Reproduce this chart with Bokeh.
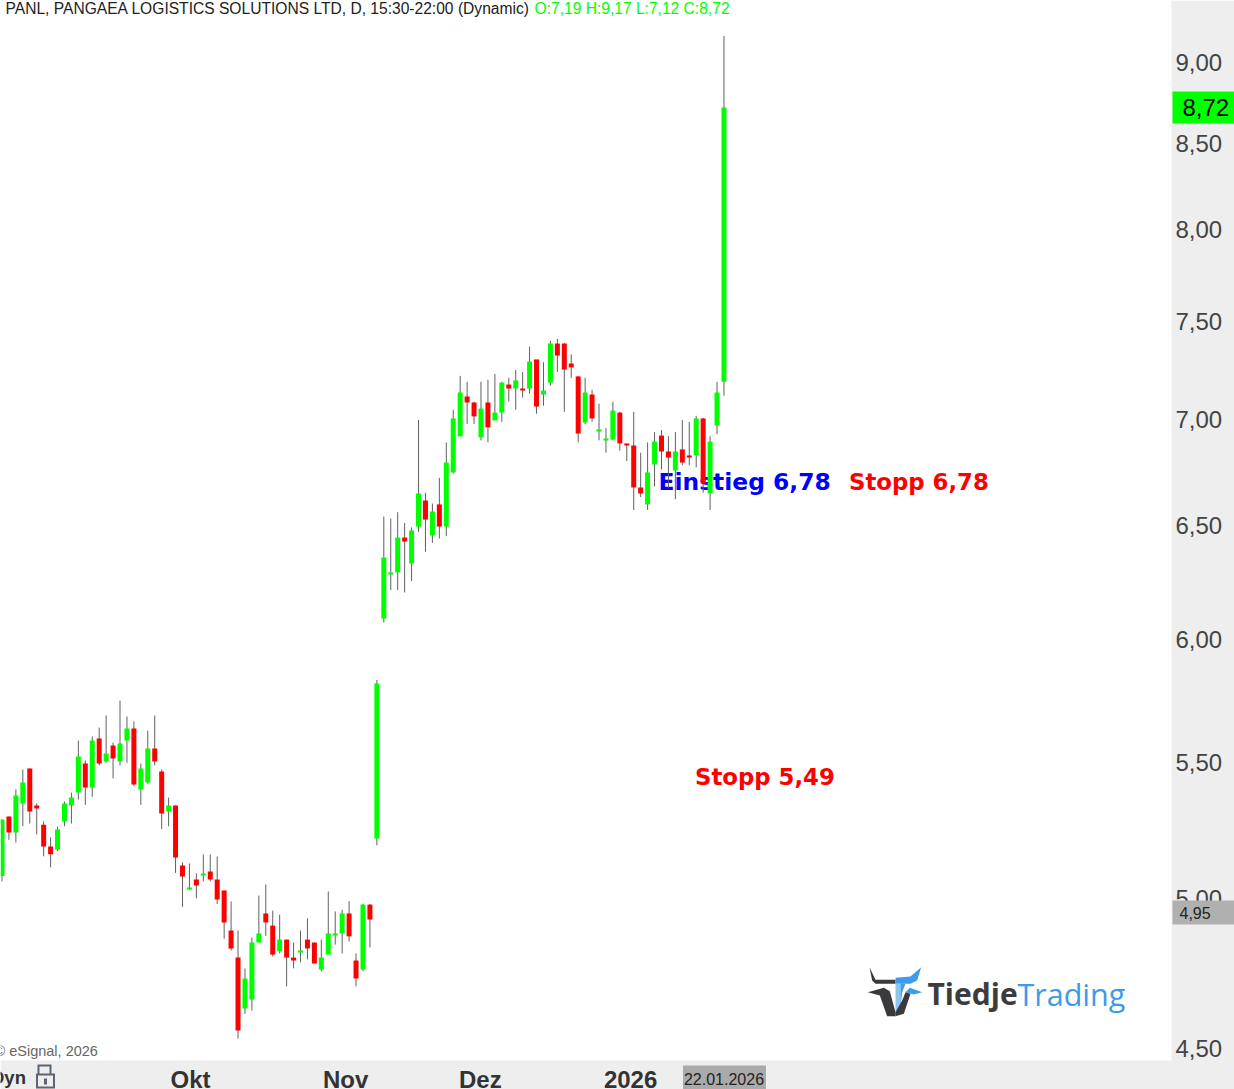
import math
from bokeh.plotting import figure
from bokeh.embed import file_html
from bokeh.resources import INLINE
from bokeh.core.properties import value
from bokeh.models import (Range1d, FixedTicker, CustomJSTickFormatter, LinearAxis, BoxAnnotation, ColumnDataSource)

# ---- data (daily candles) ----
opens = [5.079,5.296,5.237,5.345,5.478,5.337,5.266,5.186,5.175,5.278,5.337,5.386,5.497,5.405,5.595,5.505,5.567,5.505,5.587,5.634,5.398,5.424,5.556,5.466,5.315,5.337,5.117,5.031,5.067,5.081,5.095,5.067,5.028,4.888,4.796,4.627,4.657,4.847,4.947,4.905,4.817,4.857,4.796,4.813,4.857,4.847,4.756,4.806,4.871,4.878,4.947,4.786,4.756,4.978,5.215,6.087,6.279,6.288,6.444,6.327,6.494,6.614,6.453,6.596,6.494,6.746,6.919,7.116,7.086,6.914,7.086,6.997,7.036,7.176,7.156,7.156,7.156,7.304,7.126,7.186,7.386,7.386,7.283,7.217,6.987,7.126,6.943,6.899,6.904,7.036,6.885,6.875,6.675,6.596,6.784,6.923,6.846,6.755,6.856,6.827,6.827,7.007,6.647,6.972,7.19]
highs = [5.285,5.296,5.398,5.474,5.478,5.345,5.278,5.219,5.259,5.352,5.386,5.587,5.509,5.603,5.638,5.686,5.579,5.746,5.682,5.662,5.497,5.626,5.686,5.474,5.367,5.337,5.128,5.124,5.088,5.157,5.157,5.149,5.028,4.989,4.888,4.759,4.864,5.010,5.049,4.957,4.943,4.857,4.847,4.888,4.930,4.847,4.857,5.024,4.954,
         4.96,4.99,4.81,4.98,4.98,5.83,6.54,6.53,6.56,6.51,6.49,7.00,6.65,6.60,6.72,6.89,7.05,7.22,7.19,7.09,7.19,7.20,7.23,7.19,7.21,7.25,7.24,7.37,7.30,7.29,7.40,7.41,7.39,7.33,7.22,7.21,7.15,7.08,6.96,7.09,7.04,6.88,7.04,6.84,6.89,6.94,6.95,6.92,6.94,7.00,6.99,7.02,7.01,6.92,7.19,9.17]
lows = [5.06,5.21,5.20,5.26,5.27,5.23,5.15,5.11,5.17,5.26,5.27,5.36,5.34,5.37,5.49,5.50,5.44,5.49,5.50,5.41,5.34,5.42,5.49,5.25,5.26,5.09,4.97,5.03,5.00,5.06,5.06,4.98,4.86,4.82,4.53,4.61,4.62,4.85,4.87,4.80,4.81,4.70,4.76,4.78,4.79,4.78,4.75,4.81,4.84,4.81,4.85,4.70,4.75,4.83,5.19,6.07,6.21,6.21,6.20,6.25,6.47,6.38,6.42,6.44,6.45,6.74,6.92,6.98,6.98,6.90,6.89,7.00,6.99,7.09,7.05,7.11,7.13,7.03,7.07,7.17,7.24,7.04,7.21,6.89,6.98,6.99,6.90,6.84,6.90,6.85,6.80,6.57,6.63,6.57,6.68,6.76,6.67,6.62,6.78,6.78,6.77,6.65,6.57,6.93,7.12]
closes = [5.285,5.237,5.375,5.424,5.315,5.326,5.186,5.157,5.248,5.345,5.367,5.524,5.405,5.587,5.497,5.536,5.517,5.575,5.634,5.417,5.478,5.556,5.505,5.307,5.337,5.146,5.077,5.038,5.045,5.088,5.067,4.996,4.916,4.827,4.556,4.726,4.847,4.878,4.916,4.806,4.857,4.796,4.786,4.820,4.827,4.776,4.796,4.878,4.878,4.947,4.868,4.726,4.978,4.926,5.815,6.354,6.288,6.444,6.426,6.476,6.647,6.526,6.563,6.494,6.793,7.007,7.136,7.086,7.017,7.056,6.963,7.036,7.186,7.156,7.197,7.146,7.293,7.066,7.146,7.386,7.324,7.252,7.263,6.933,7.136,7.007,6.953,6.909,7.046,6.885,6.875,6.675,6.647,6.746,6.894,6.846,6.817,6.846,6.793,6.817,7.007,6.694,6.894,7.136,8.72]
price_ticks = [4.5, 5.0, 5.5, 6.0, 6.5, 7.0, 7.5, 8.0, 8.5, 9.0]
month_ticks = [27.15, 49.5, 68.9, 90.55]
month_labels = ["Okt", "Nov", "Dez", "2026"]
assert len(opens) == len(highs) == len(lows) == len(closes) == 105

# ---- reference pixel <-> data helpers (for annotations only) ----
def X(px): return (px - 1.5) / 6.942
def Y(py): return 9.0 * math.exp(-(py - 62.0) / 1422.0)

BAND = "#eeeeee"
ARIAL = "Liberation Sans"

# the plot frame fills the canvas; the axes sit at fixed locations inside it
p = figure(width=1234, height=1089, y_axis_type="log", y_axis_location="right",
           x_range=Range1d(X(0), X(1234)), y_range=Range1d(Y(1089), Y(0)),
           toolbar_location=None, output_backend="svg",
           min_border_left=0, min_border_top=0, min_border_right=0, min_border_bottom=0,
           background_fill_color="white", border_fill_color=BAND, outline_line_color=None)
p.grid.visible = False

# margin bands
p.add_layout(BoxAnnotation(left=X(1171), right=X(1234), top=Y(0), bottom=Y(1089), fill_color=BAND, fill_alpha=1,
                           line_color=None, level="underlay"))
p.add_layout(BoxAnnotation(left=X(0), right=X(1234), top=Y(1060), bottom=Y(1089), fill_color=BAND, fill_alpha=1,
                           line_color=None, level="underlay"))

ya = p.yaxis[0]
ya.fixed_location = X(1171)
ya.ticker = FixedTicker(ticks=price_ticks)
ya.formatter = CustomJSTickFormatter(code="return tick.toFixed(2).replace('.', ',')")
ya.axis_line_color = None
ya.major_tick_line_color = None
ya.minor_tick_line_color = None
ya.major_tick_out = 0
ya.major_tick_in = 0
ya.minor_tick_out = 0
ya.minor_tick_in = 0
ya.major_label_text_font = ARIAL
ya.major_label_text_font_size = "24px"
ya.major_label_text_color = "#444444"
ya.major_label_standoff = 4

xa = p.xaxis[0]
xa.fixed_location = Y(1060)
xa.ticker = FixedTicker(ticks=month_ticks)
xa.major_label_overrides = dict(zip(month_ticks, month_labels))
xa.axis_line_color = None
xa.major_tick_line_color = None
xa.minor_tick_line_color = None
xa.major_tick_out = 0
xa.major_tick_in = 0
xa.minor_tick_out = 0
xa.minor_tick_in = 0
xa.major_label_text_font = ARIAL
xa.major_label_text_font_style = "bold"
xa.major_label_text_font_size = "24px"
xa.major_label_text_color = "#333333"
xa.major_label_standoff = 5

def txt(px, py, s, color, size, font=ARIAL, style="normal", align="left"):
    p.text([X(px)], [Y(py)], text=[s], text_color=color, text_font=value(font), text_font_size=size,
           text_font_style=style, text_baseline="middle", text_align=align)

# texts that lie below the candles
txt(658, 481, "Einstieg 6,78", "#0000ff", "23.4px", "DejaVu Sans", "bold")
txt(848.5, 481, "Stopp 6,78", "#ff0000", "22.8px", "DejaVu Sans", "bold")
txt(694.5, 776, "Stopp 5,49", "#ff0000", "22.8px", "DejaVu Sans", "bold")
txt(5, 8, "PANL, PANGAEA LOGISTICS SOLUTIONS LTD, D, 15:30-22:00 (Dynamic)", "#222222", "15.6px")
txt(534, 8, "O:7,19 H:9,17 L:7,12 C:8,72", "#00ff00", "15.6px")
txt(-6, 1050, "© eSignal, 2026", "#666666", "14.5px")
txt(-9.5, 1077, "Dyn", "#333333", "18.5px", style="bold")

# candles
idx = list(range(len(opens)))
up = [c >= o for o, c in zip(opens, closes)]
src = ColumnDataSource(dict(x=idx, h=highs, l=lows,
                            top=[max(o, c) for o, c in zip(opens, closes)],
                            bot=[min(o, c) for o, c in zip(opens, closes)],
                            col=["#00ff00" if u else "#ff0000" for u in up]))
p.segment("x", "h", "x", "l", source=src, line_color="#606060", line_width=1)
p.vbar(x="x", top="top", bottom="bot", width=0.72, source=src, fill_color="col", line_color=None)

# logo
def poly(pts, color):
    p.patch([X(850 + a / 3) for a, b in pts], [Y(950 + b / 3) for a, b in pts],
            fill_color=color, line_color=None)
DARK = "#3a3a3e"
BLUE = "#3d9be9"
poly([(57,50),(75,88),(135,88),(135,100),(75,100),(65,90)], DARK)
poly([(135,82),(180,78),(212,50),(200,90),(180,100),(135,100)], BLUE)
poly([(135,100),(150,100),(150,170),(135,195)], "#8fc4ee")
poly([(150,100),(165,100),(155,125),(150,170)], BLUE)
poly([(52,125),(100,112),(118,122),(135,185),(135,197),(110,197),(88,135)], DARK)
poly([(215,125),(178,112),(165,125),(190,132)], BLUE)
poly([(165,125),(180,130),(160,190),(135,197),(135,185),(155,150)], DARK)
txt(927, 993, "Tiedje", "#3c3c3c", "30px", "Open Sans", "bold")
txt(1017, 993, "Trading", BLUE, "30.5px", "Open Sans")

# tags and icon in the margins: fixed-location axes whose single tick is the coloured box
def _style(ax, color, width, length, label_color, size, standoff, bold=False):
    ax.axis_line_color = None
    ax.minor_tick_line_color = None
    ax.minor_tick_in = 0
    ax.minor_tick_out = 0
    ax.major_tick_in = 0
    ax.major_tick_out = length
    ax.major_tick_line_color = color
    ax.major_tick_line_width = width
    ax.major_label_text_font = ARIAL
    ax.major_label_text_font_size = size
    ax.major_label_text_color = label_color
    ax.major_label_standoff = standoff
    if bold:
        ax.major_label_text_font_style = "bold"

def y_tag(price, x0, x1, y0, y1, color, label, label_color, size, text_x):
    ax = LinearAxis(fixed_location=X(x0), ticker=FixedTicker(ticks=[price]),
                    major_label_overrides={price: label})
    _style(ax, color, y1 - y0, x1 - x0, label_color, size, text_x - x1)
    p.add_layout(ax, "right")

def x_tag(x0, x1, y0, y1, color, label="", label_color="#222222", size="16px", standoff=0, bold=False):
    t = X((x0 + x1) / 2)
    ax = LinearAxis(fixed_location=Y(y0), ticker=FixedTicker(ticks=[t]), major_label_overrides={t: label})
    _style(ax, color, x1 - x0, y1 - y0, label_color, size, standoff, bold)
    p.add_layout(ax, "below")

y_tag(8.72, 1172, 1234, 92, 124, "#00ff00", "8,72", "#000000", "24px", 1182)
y_tag(4.95, 1172, 1234, 901, 925, "#b0b0b0", "4,95", "#222222", "16px", 1179)
x_tag(682, 765, 1065, 1089, "#aaaaaa", "22.01.2026", "#222222", "16px", -17)

# lock icon
LOCK = "#5f6472"
x_tag(37, 51, 1064, 1075, LOCK)
x_tag(39, 49, 1066, 1075, BAND)
x_tag(35, 54, 1073, 1088, LOCK)
x_tag(37, 52, 1075, 1086, BAND)
x_tag(43, 46, 1078, 1084, LOCK)

html = file_html(p, INLINE).replace("</head>", "<style>html,body{margin:0;padding:0}</style></head>", 1)
open("out.html", "w").write(html)
